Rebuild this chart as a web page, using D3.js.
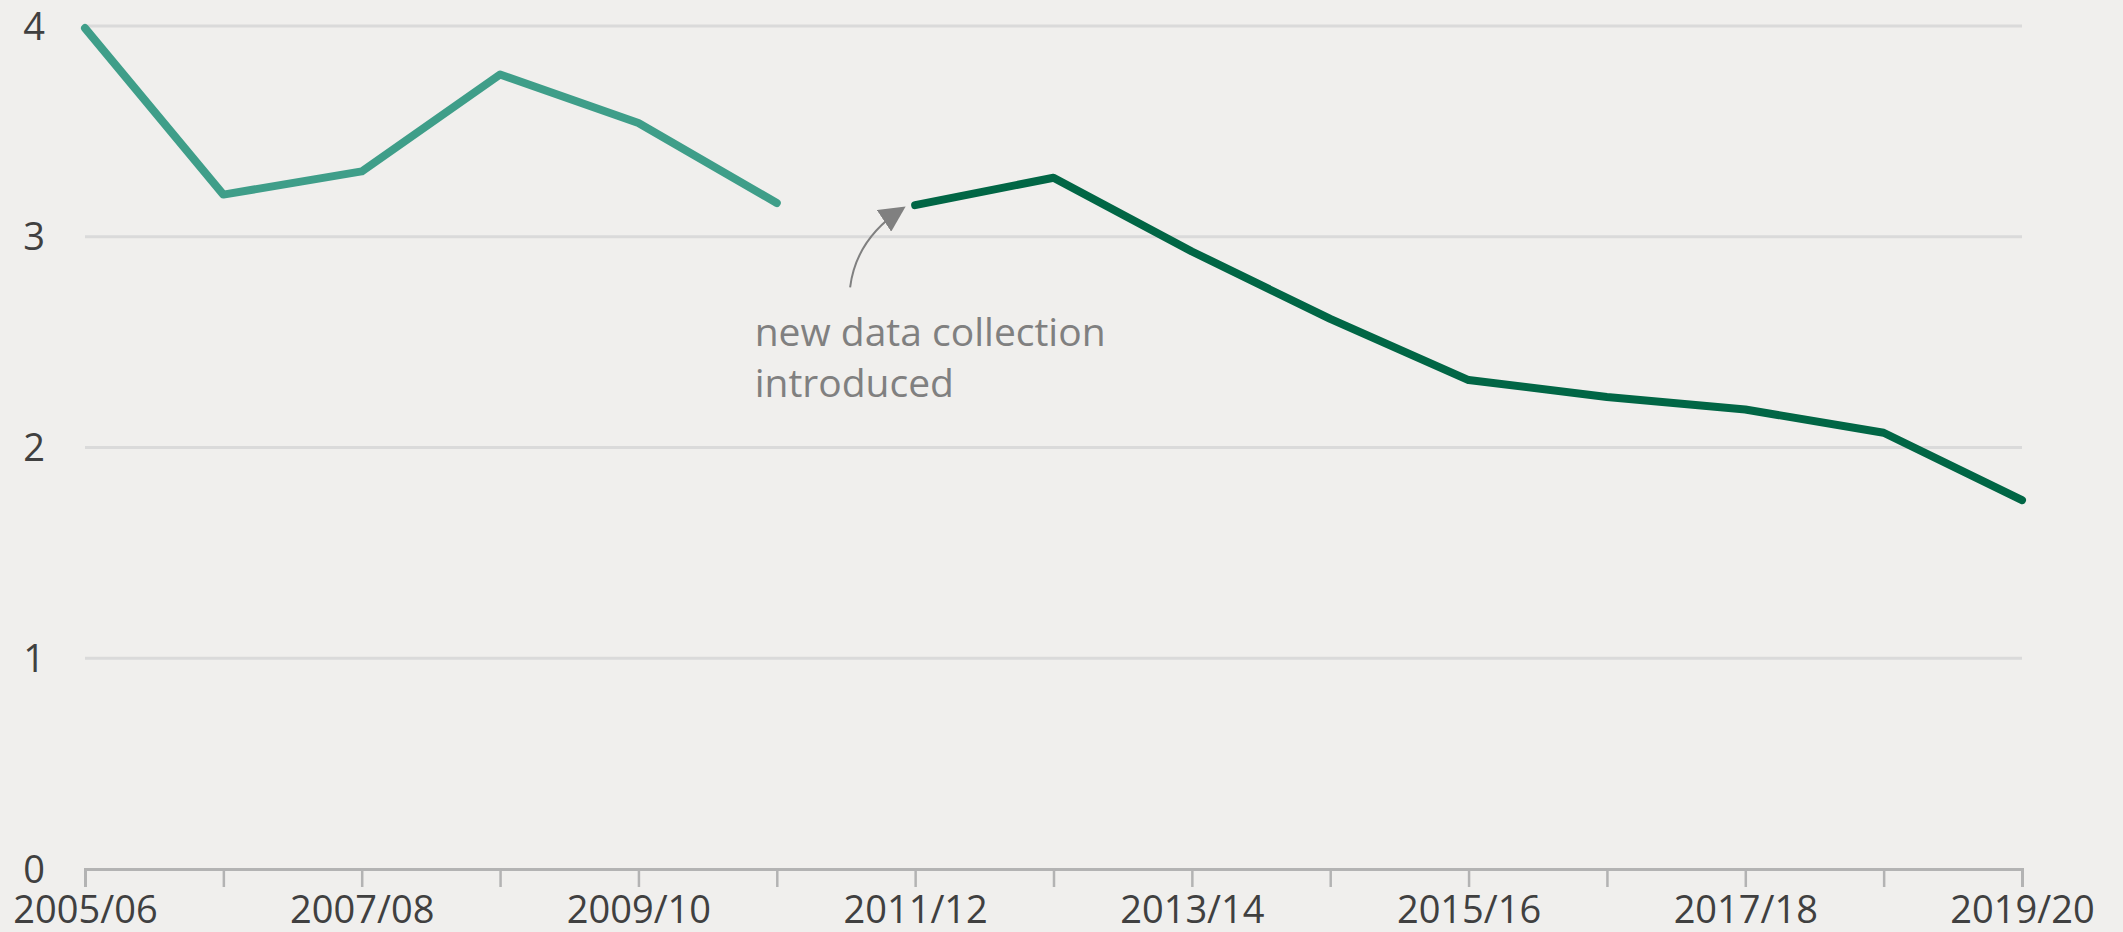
<!DOCTYPE html>
<html>
<head>
<meta charset="utf-8">
<script src="https://cdn.jsdelivr.net/npm/d3@7"></script>
<style>
  html, body { margin: 0; padding: 0; background: #f0efed; }
  svg { display: block; font-family: "Open Sans", "Noto Sans", sans-serif; }
</style>
</head>
<body>
<div id="chart"></div>
<script>
// Years on the x axis
const years = ["2005/06", "2006/07", "2007/08", "2008/09", "2009/10", "2010/11",
  "2011/12", "2012/13", "2013/14", "2014/15", "2015/16", "2016/17",
  "2017/18", "2018/19", "2019/20"];

// Old data collection, 2005/06 to 2010/11
const oldValues = [3.99, 3.20, 3.31, 3.77, 3.54, 3.16];
// New data collection, 2011/12 to 2019/20
const newValues = [3.15, 3.28, 2.93, 2.61, 2.32, 2.24, 2.18, 2.07, 1.75];

const yTicks = [0, 1, 2, 3, 4];
const xLabels = ["2005/06", "2007/08", "2009/10", "2011/12", "2013/14", "2015/16", "2017/18", "2019/20"];

const W = 2123, H = 932;
const margin = { top: 26, right: 101, bottom: 63, left: 85 };
const width = W - margin.left - margin.right,
  height = H - margin.top - margin.bottom;

const svg = d3.select("#chart").append("svg")
  .attr("width", W)
  .attr("height", H);

svg.append("defs").append("marker")
  .attr("id", "head")
  .attr("viewBox", "0 0 10 10")
  .attr("refX", 8).attr("refY", 5)
  .attr("markerWidth", 26).attr("markerHeight", 26)
  .attr("markerUnits", "userSpaceOnUse")
  .attr("orient", "auto")
  .append("path")
  .attr("d", "M0,0 L10,5 L0,10 Z")
  .attr("fill", "#808080");

const g = svg.append("g")
  .attr("transform", "translate(" + margin.left + "," + margin.top + ")");

const x = d3.scalePoint()
  .domain(years)
  .range([0, width]);

const y = d3.scaleLinear()
  .domain([0, 4])
  .range([height, 0]);

// gridlines
g.append("g")
  .selectAll("line")
  .data(yTicks.filter(d => d > 0))
  .enter().append("line")
  .attr("x1", 0).attr("x2", width)
  .attr("y1", d => y(d)).attr("y2", d => y(d))
  .attr("stroke", "#dadada")
  .attr("stroke-width", 3);

// y labels
g.append("g")
  .selectAll("text")
  .data(yTicks)
  .enter().append("text")
  .attr("x", -40)
  .attr("y", d => y(d))
  .attr("dy", "0.36em")
  .attr("text-anchor", "end")
  .attr("font-size", 38)
  .attr("fill", "#404040")
  .text(d => d);

// x axis
const xAxis = g.append("g")
  .attr("transform", "translate(0," + height + ")")
  .call(d3.axisBottom(x).tickSize(18).tickPadding(9)
    .tickFormat(d => xLabels.includes(d) ? d : ""));

xAxis.select(".domain")
  .attr("stroke", "#b3b3b3")
  .attr("stroke-width", 3);
xAxis.selectAll(".tick line")
  .attr("stroke", "#b3b3b3")
  .attr("stroke-width", 2.5);
xAxis.selectAll(".tick text")
  .attr("font-size", 38)
  .attr("font-family", "Open Sans, Noto Sans, sans-serif")
  .attr("fill", "#404040");

const line = d3.line()
  .x(d => x(d.year))
  .y(d => y(d.value));

const oldData = oldValues.map((v, i) => ({ year: years[i], value: v }));
const newData = newValues.map((v, i) => ({ year: years[i + oldValues.length], value: v }));

g.append("path")
  .datum(oldData)
  .attr("d", line)
  .attr("fill", "none")
  .attr("stroke", "#3f9e89")
  .attr("stroke-width", 8)
  .attr("stroke-linecap", "round")
  .attr("stroke-linejoin", "round");

g.append("path")
  .datum(newData)
  .attr("d", line)
  .attr("fill", "none")
  .attr("stroke", "#016645")
  .attr("stroke-width", 8)
  .attr("stroke-linecap", "round")
  .attr("stroke-linejoin", "round");

// annotation
const step = x.step();
const ax0 = x("2010/11") + step * 0.53, ay0 = y(2.76);
const ax1 = x("2010/11") + step * 0.9, ay1 = y(3.13);
g.append("path")
  .attr("d", "M" + ax0 + "," + ay0 + " Q" + (ax0 + 6) + "," + (ay1 + 30) + " " + ax1 + "," + ay1)
  .attr("fill", "none")
  .attr("stroke", "#808080")
  .attr("stroke-width", 2)
  .attr("marker-end", "url(#head)");

const noteX = x("2009/10") + step * 0.84;
const note = g.append("text")
  .attr("x", noteX)
  .attr("y", y(2.5) + 4)
  .attr("font-size", 39)
  .attr("fill", "#808080");
note.append("tspan").attr("x", noteX).attr("dy", 0).text("new data collection");
note.append("tspan").attr("x", noteX).attr("dy", 51).text("introduced");
</script>
</body>
</html>
